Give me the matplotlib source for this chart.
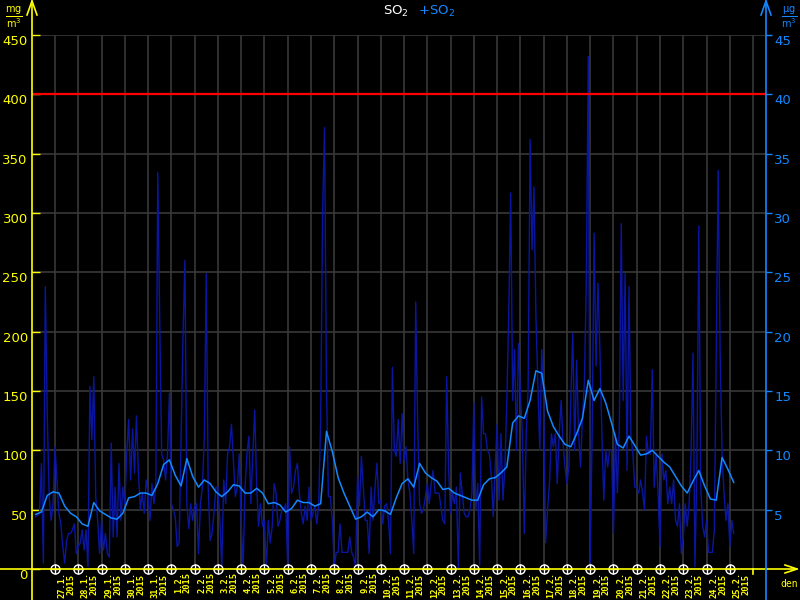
import numpy as np
import matplotlib
matplotlib.use('Agg')
import matplotlib.pyplot as plt

# hodinové koncentrace SO2 (levá osa), krok 2 h, start 26.1.2015 04:00
so2 = [
    44, 45, 47, 89, 5, 238, 131, 61, 41, 55,
    103, 75, 47, 38, 19, 5, 24, 30, 30, 33,
    38, 13, 19, 22, 33, 16, 33, 2, 154, 109,
    162, 61, 41, 13, 41, 16, 30, 13, 10, 106,
    27, 69, 27, 89, 41, 69, 55, 97, 126, 75,
    118, 81, 129, 83, 50, 64, 47, 75, 64, 41,
    72, 55, 69, 334, 210, 97, 92, 75, 97, 148,
    55, 50, 44, 19, 22, 111, 196, 260, 55, 34,
    55, 41, 53, 55, 13, 55, 69, 112, 249, 69,
    24, 30, 47, 69, 69, 41, 2, 75, 55, 97,
    103, 122, 92, 61, 69, 97, 41, 1, 69, 97,
    112, 55, 97, 134, 69, 36, 55, 36, 41, 1,
    41, 22, 36, 72, 64, 36, 41, 50, 50, 55,
    1, 103, 64, 69, 83, 89, 64, 47, 38, 53,
    41, 69, 41, 47, 53, 38, 55, 126, 300, 372,
    154, 61, 61, 41, 1, 14, 14, 38, 14, 14,
    14, 14, 27, 14, 10, 2, 78, 53, 95, 69,
    41, 41, 13, 69, 41, 69, 89, 55, 58, 38,
    53, 55, 41, 13, 170, 100, 95, 126, 89, 131,
    92, 103, 75, 64, 41, 13, 225, 126, 55, 47,
    50, 61, 72, 55, 72, 83, 64, 64, 64, 53,
    41, 38, 162, 83, 47, 64, 55, 69, 1, 81,
    64, 47, 44, 44, 50, 64, 140, 50, 72, 3,
    145, 114, 114, 100, 97, 78, 44, 86, 122, 58,
    114, 58, 86, 142, 216, 317, 142, 185, 100, 190,
    148, 114, 30, 114, 153, 362, 269, 322, 213, 157,
    100, 185, 142, 22, 50, 72, 114, 103, 114, 72,
    114, 142, 106, 86, 72, 86, 142, 199, 100, 176,
    114, 86, 128, 157, 244, 432, 5, 114, 283, 171,
    241, 185, 114, 58, 100, 86, 100, 100, 30, 114,
    64, 120, 291, 142, 249, 83, 238, 112, 97, 69,
    69, 64, 75, 64, 50, 112, 97, 97, 168, 69,
    97, 64, 19, 97, 75, 83, 55, 69, 55, 75,
    41, 36, 55, 13, 27, 55, 36, 55, 97, 182,
    2, 83, 289, 69, 36, 27, 41, 14, 14, 14,
    33, 182, 336, 182, 97, 64, 41, 55, 19, 41, 30,
]

# klouzavý průměr (pravá osa), krok 6 h
so2_avg = [
    4.6, 4.8, 6.2, 6.5, 6.4, 5.3, 4.7, 4.4, 3.8, 3.6,
    5.6, 4.9, 4.6, 4.3, 4.2, 4.7, 6.0, 6.1, 6.4, 6.4,
    6.2, 7.2, 8.8, 9.2, 7.9, 7.0, 9.3, 7.8, 6.9, 7.5,
    7.2, 6.5, 6.1, 6.5, 7.1, 7.0, 6.4, 6.4, 6.8, 6.4,
    5.5, 5.6, 5.4, 4.8, 5.1, 5.8, 5.6, 5.6, 5.3, 5.5,
    11.6, 9.9, 7.7, 6.4, 5.3, 4.2, 4.4, 4.8, 4.4, 5.0,
    4.9, 4.6, 6.0, 7.2, 7.6, 6.9, 8.9, 8.1, 7.7, 7.4,
    6.7, 6.8, 6.4, 6.2, 6.0, 5.8, 5.8, 7.1, 7.6, 7.7,
    8.1, 8.6, 12.3, 12.9, 12.7, 14.2, 16.7, 16.5, 13.3, 12.0,
    11.2, 10.5, 10.3, 11.4, 12.7, 15.9, 14.2, 15.2, 14.0, 12.3,
    10.5, 10.2, 11.2, 10.4, 9.6, 9.7, 10.0, 9.5, 9.0, 8.6,
    7.8, 7.0, 6.4, 7.4, 8.3, 7.0, 5.9, 5.8, 9.4, 8.4, 7.3,
]

days = ['27.1.', '28.1.', '29.1.', '30.1.', '31.1.'] + ['%d.2.' % d for d in range(1, 26)]
year = '2015'
limit = 400

start = -20 / 24.0       # dny od 27.1. 00:00
t_so2 = start + np.arange(len(so2)) * 2 / 24.0
t_avg = start + np.arange(len(so2_avg)) * 6 / 24.0

YEL = '#ffff00'
BLU = '#1488ff'
DARK = '#0a16a0'
GRID = '#383838'

W, H = 800, 600
def fx(x):
    return x / W
def fy(y):
    return 1 - y / H

fig = plt.figure(figsize=(8, 6), dpi=100, facecolor='black')
ax = fig.add_axes([fx(32), fy(569), (766 - 32) / W, (569 - 35) / H])
ax.set_facecolor('black')
ppd = 23.27  # px na den
ax.set_xlim(-23 / ppd, 711 / ppd)
ax.set_ylim(0, 450)
for s in ax.spines.values():
    s.set_visible(False)

# mřížka
ax.hlines(range(50, 451, 50), ax.get_xlim()[0], ax.get_xlim()[1], color=GRID, lw=1.2, zorder=0)
ax.vlines(range(0, len(days) + 1), 0, 450, color=GRID, lw=1.2, zorder=0)

ax.plot(t_so2, so2, color=DARK, lw=1.0, zorder=2)
ax.axhline(limit, color='#ff0000', lw=1.6, zorder=3)

ax2 = ax.twinx()
ax2.set_ylim(0, 45)
for s in ax2.spines.values():
    s.set_visible(False)
ax2.plot(t_avg, so2_avg, color=BLU, lw=1.1, zorder=4)

# osa y vlevo
ax.set_yticks(range(0, 451, 50))
ax.tick_params(axis='y', direction='in', length=6, width=1, color=YEL, labelcolor=YEL,
               labelsize=9.5, pad=3)
for lab in ax.get_yticklabels():
    lab.set_va('top')

# osa y vpravo
ax2.set_yticks(range(5, 46, 5))
ax2.tick_params(axis='y', direction='out', length=4, width=1, color=BLU, labelcolor=BLU,
                labelsize=9.5, pad=2)
for lab in ax2.get_yticklabels():
    lab.set_va('top')

# osa x
ax.set_xticks(np.arange(len(days)) + 0.5)
ax.set_xticklabels([d + '\n' + year for d in days], rotation=90, va='top', ha='center',
                   family='DejaVu Sans Mono', fontsize=6.3, fontweight='bold', color=YEL,
                   linespacing=1.0)
ax.tick_params(axis='x', length=0, pad=2)

ax.plot(range(len(days)), [0] * len(days), 'o', ms=6.5, mfc='black', mec='white', mew=1.0,
        clip_on=False, zorder=6)
ax.plot(range(len(days)), [0] * len(days), '+', ms=7, color='white', mew=1.0,
        clip_on=False, zorder=7)

# čáry os a šipky
def line(xs, ys, c, lw=1.2):
    fig.add_artist(plt.Line2D([fx(x) for x in xs], [fy(y) for y in ys], color=c, lw=lw, zorder=5))

line([0, 797], [569, 569], YEL)
line([785, 797, 785], [565, 569, 573], YEL)
line([753, 753], [569, 574], YEL)
line([32, 32], [1, 600], YEL)
line([27, 32, 37], [15, 1, 15], YEL)
line([766, 766], [1, 600], BLU)
line([761, 766, 771], [15, 1, 15], BLU)

fig.text(fx(14), fy(17), r'$\frac{\mathrm{mg}}{\mathrm{m}^3}$', color=YEL, fontsize=10,
         ha='center', va='center')
fig.text(fx(789), fy(17), r'$\frac{\mathrm{\mu g}}{\mathrm{m}^3}$', color=BLU, fontsize=10,
         ha='center', va='center')
fig.text(fx(409), fy(11), 'SO$_2$', color='white', fontsize=9.5, ha='right', va='center')
fig.text(fx(418), fy(11), '+SO$_2$', color=BLU, fontsize=9.5, ha='left', va='center')
fig.text(fx(789), fy(584), 'den', color=YEL, fontsize=7, ha='center', va='center',
         family='DejaVu Sans Mono')

fig.savefig('out.png', dpi=100, facecolor='black')
